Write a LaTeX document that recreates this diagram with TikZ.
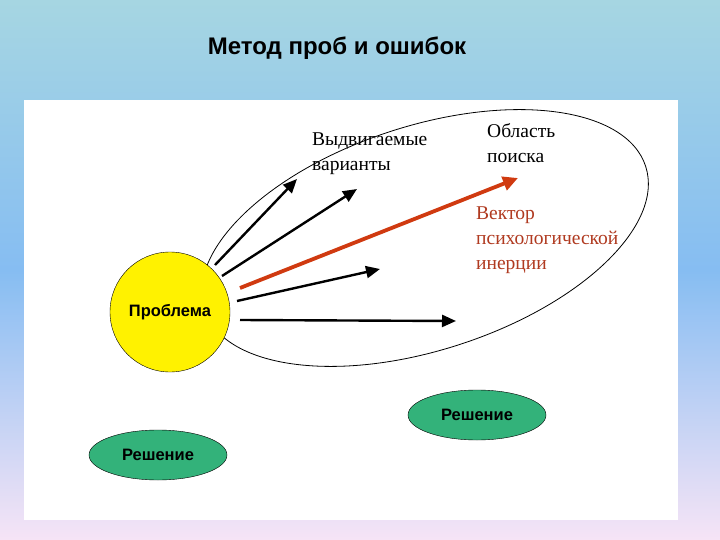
\documentclass[tikz,border=0pt]{standalone}
\usepackage{fontspec}
\setmainfont{Liberation Serif}
\newfontfamily\sansf{Liberation Sans}
\usetikzlibrary{shapes.geometric,arrows.meta}
\definecolor{bgtop}{HTML}{A6D6E2}
\definecolor{bgmid}{HTML}{86BDF2}
\definecolor{bgbot}{HTML}{F6E4F6}
\definecolor{sol}{HTML}{33B27A}
\definecolor{redv}{HTML}{D03A10}
\definecolor{redt}{HTML}{B03A20}
\tikzset{
  arr/.style={line width=2.4pt,-{Triangle[length=14pt,width=12pt]}},
  solbox/.style={ellipse,draw=black,fill=sol,minimum width=138pt,minimum height=50pt,font=\sansf\bfseries\fontsize{16.5}{16.5}\selectfont},
  lab/.style={anchor=north west,align=left,font=\fontsize{19.5}{25}\selectfont,inner sep=0pt}
}
\begin{document}
\begin{tikzpicture}[x=1pt,y=-1pt]
\useasboundingbox (0,0) rectangle (720,540);
\shade[top color=bgtop,bottom color=bgmid] (0,0) rectangle (720,270);
\shade[top color=bgmid,bottom color=bgbot] (0,270) rectangle (720,540);
\fill[white] (24,100) rectangle (678,520);
\node[font=\sansf\bfseries\fontsize{24}{24}\selectfont] (title) at (337,48) {Метод проб и ошибок};
\draw[black,line width=0.8pt,rotate around={18:(425,238)}] (425,238) ellipse [x radius=232, y radius=112];
\coordinate (area) at (425,238);
\node[circle,draw=black,fill=yellow,minimum size=120pt,inner sep=0pt,font=\sansf\bfseries\fontsize{16.5}{16.5}\selectfont] (prob) at (170,312) {Проблема};
\coordinate (s1) at (215,265); \coordinate (e1) at (297,179);
\coordinate (s2) at (222,276); \coordinate (e2) at (357,189);
\coordinate (s3) at (240,288); \coordinate (e3) at (518,178);
\coordinate (s4) at (237,301); \coordinate (e4) at (380,269);
\coordinate (s5) at (240,320); \coordinate (e5) at (456,321);
\draw[arr] (s1) -- (e1);
\draw[arr] (s2) -- (e2);
\draw[arr] (s4) -- (e4);
\draw[arr] (s5) -- (e5);
\draw[arr,redv,line width=3.8pt,-{Triangle[length=15pt,width=14pt]}] (s3) -- (e3);
\node[lab] (vyd) at (312,133) {Выдвигаемые\\варианты};
\node[lab] (obl) at (487,123) {Область\\поиска};
\node[lab,text=redt] (vec) at (476,207) {Вектор\\психологической\\инерции};
\node[solbox] (r1) at (477,415) {Решение};
\node[solbox] (r2) at (158,455) {Решение};
\end{tikzpicture}
\end{document}
